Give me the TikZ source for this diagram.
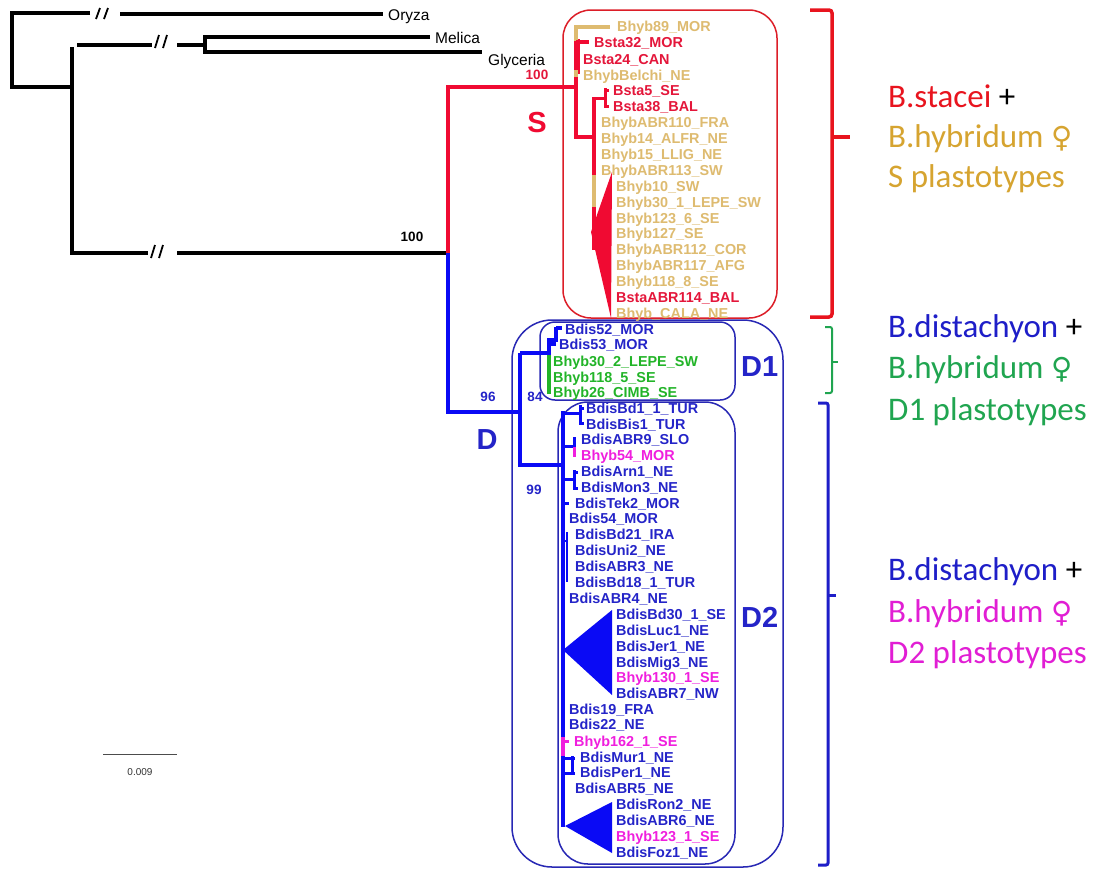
\documentclass[tikz,border=0pt]{standalone}
\usepackage{fontspec}
\setmainfont{Liberation Sans}
\newfontfamily\calib{Carlito}
\newfontfamily\symf{DejaVu Sans}
\definecolor{tanT}{RGB}{222,187,112}
\definecolor{redT}{RGB}{228,22,58}
\definecolor{bluT}{RGB}{36,36,200}
\definecolor{grnT}{RGB}{34,180,40}
\definecolor{magT}{RGB}{240,30,222}
\definecolor{redL}{RGB}{240,10,50}
\definecolor{bluL}{RGB}{10,10,245}
\definecolor{boxB}{RGB}{40,40,180}
\definecolor{boxR}{RGB}{220,30,40}
\definecolor{stRed}{RGB}{232,20,30}
\definecolor{gold}{RGB}{214,164,48}
\definecolor{grnR}{RGB}{32,165,80}
\definecolor{bluR}{RGB}{30,30,200}
\definecolor{magR}{RGB}{225,30,212}
\tikzset{
  br/.style={line width=4pt},
  brk/.style={line width=1.8pt},
  tip/.style={font=\bfseries\fontsize{14.4}{16}\selectfont, inner sep=0pt, anchor=base west},
  outg/.style={font=\fontsize{15.5}{17}\selectfont, inner sep=0pt, anchor=base west},
  boot/.style={font=\bfseries\fontsize{13.5}{15}\selectfont, inner sep=0pt},
  big/.style={font=\bfseries\fontsize{29}{32}\selectfont, inner sep=0pt},
  legend/.style={font=\calib\fontsize{33}{38}\selectfont, inner sep=0pt, anchor=base west},
  clbox/.style={draw, line width=1.5pt, inner sep=0pt},
}
\begin{document}
\begin{tikzpicture}[x=1pt,y=-1pt]
\useasboundingbox (0,0) rectangle (1101,871);
\fill[white] (0,0) rectangle (1101,871);

% clade boxes
\node[clbox, boxR, rounded corners=28pt, minimum width=214pt, minimum height=308pt] (Sbox) at (670,164) {};
\node[clbox, boxB, rounded corners=40pt, minimum width=271pt, minimum height=547pt] (Dbox) at (647.5,593.5) {};
\node[clbox, boxB, rounded corners=15pt, minimum width=195pt, minimum height=78pt] (Donebox) at (637.5,361) {};
\node[clbox, boxB, rounded corners=30pt, minimum width=177pt, minimum height=462pt] (Dtwobox) at (646.5,633) {};

% ---------- outgroups (black) ----------
\coordinate (root) at (12,87);
\coordinate (n1) at (72,87);
\coordinate (ing) at (448,253);
\coordinate (mg) at (205,45);
\draw[br] (90,13) -- (12,13) -- (root) -- (n1);
\draw[br] (120,14) -- (383,14);
\draw[br] (72,47) -- (72,253) -- (148,253);
\draw[line width=3.3pt] (77,45) -- (152,45);
\draw[br] (177,45) -- (mg);
\draw[br] (430,37) -- (205,37) -- (205,52) -- (482,52);
\draw[br] (177,253) -- (ing);
% break marks
\draw[brk] (96,19) -- (100,8) (104,19) -- (108,8);
\draw[brk] (155,48) -- (159,35) (163,48) -- (167,35);
\draw[brk] (151,258) -- (155,245) (159,258) -- (163,245);

\node[outg] (oryza) at (388,20) {Oryza};
\node[outg] (melica) at (435,43) {Melica};
\node[outg] (glyceria) at (488,65) {Glyceria};

% ---------- S clade (red) ----------
\coordinate (sn) at (576,87);
\draw[br, redL] (ing) -- (448,87) -- (sn);
\draw[br, redL] (576,39) -- (576,137) -- (594,137);
\draw[line width=6pt, redL] (577,39) -- (577,74);
\draw[line width=3.5pt, tanT] (576,41) -- (576,27) -- (610,27);
\draw[line width=3.5pt, tanT] (576,70) -- (576,77);
\draw[line width=3.5pt, redL] (576,42) -- (589,42);
\draw[br, redL] (594,97) -- (594,250);
\draw[br, tanT] (594,175) -- (594,207);
\draw[line width=3pt, redL] (594,98) -- (605,98) (605,88) -- (605,108) (605,90) -- (609,90) (605,106) -- (609,106);
\fill[redL] (612,172) -- (591,232) -- (611,318) -- cycle;

% ---------- D clade (blue) ----------
\coordinate (dn) at (520,412);
\draw[br, bluL] (ing) -- (448,412) -- (dn);
\draw[br, bluL] (520,353) -- (520,465) -- (563,465);
\draw[br, bluL] (520,353) -- (549,353);
\draw[br, bluL] (549,338) -- (549,356);
\draw[line width=3.5pt, grnT] (549,355) -- (549,394);
\draw[line width=3.5pt, bluL] (549,340) -- (556,340) (556,327) -- (556,342) (556,328) -- (562,328) (549,344) -- (556,344);

\draw[br, bluL] (563,411) -- (563,827);
\draw[line width=3pt, bluL] (563,413) -- (580,413) (580,405) -- (580,425) (580,408) -- (584,408) (580,423) -- (584,423);
\draw[line width=3pt, bluL] (563,446) -- (574,446) (574,437) -- (574,447);
\draw[line width=3pt, magT] (574,447) -- (574,457);
\draw[line width=3pt, bluL] (563,479) -- (574,479) (574,470) -- (574,490) (574,472) -- (578,472) (574,488) -- (578,488);
\draw[line width=3pt, bluL] (563,503) -- (569,503);
\draw[line width=2.5pt, bluL] (563,541) -- (567,541) (567,532) -- (567,582);
\fill[bluL] (563,650) -- (612,610) -- (612,695) -- cycle;
\draw[br, magT] (563,737) -- (563,756);
\draw[line width=3pt, magT] (563,741) -- (569,741);
\draw[line width=3pt, bluL] (563,758) -- (575,758) (563,773) -- (575,773) (572,756) -- (572,775);
\fill[bluL] (565,826) -- (612,802) -- (612,853) -- cycle;

% ---------- tip labels ----------
\foreach \t/\c/\x/\y [count=\i] in {
 Bhyb89\_MOR/tanT/617/26, Bsta32\_MOR/redT/594/42, Bsta24\_CAN/redT/583/59,
 BhybBelchi\_NE/tanT/583/75, Bsta5\_SE/redT/613/90, Bsta38\_BAL/redT/613/106,
 BhybABR110\_FRA/tanT/601/122, Bhyb14\_ALFR\_NE/tanT/601/138, Bhyb15\_LLIG\_NE/tanT/601/154,
 BhybABR113\_SW/tanT/601/170, Bhyb10\_SW/tanT/616/186, Bhyb30\_1\_LEPE\_SW/tanT/616/202,
 Bhyb123\_6\_SE/tanT/616/218, Bhyb127\_SE/tanT/616/233, BhybABR112\_COR/tanT/616/249,
 BhybABR117\_AFG/tanT/616/265, Bhyb118\_8\_SE/tanT/616/281, BstaABR114\_BAL/redT/616/297,
 Bhyb\_CALA\_NE/tanT/616/313}
 {\node[tip, text=\c] (ts\i) at (\x,\y+5) {\t};}

\foreach \t/\c/\x/\y [count=\i] in {
 Bdis52\_MOR/bluT/565/329, Bdis53\_MOR/bluT/559/344, Bhyb30\_2\_LEPE\_SW/grnT/553/361,
 Bhyb118\_5\_SE/grnT/553/377, Bhyb26\_CIMB\_SE/grnT/553/392}
 {\node[tip, text=\c] (tda\i) at (\x,\y+5) {\t};}

\foreach \t/\c/\x/\y [count=\i] in {
 BdisBd1\_1\_TUR/bluT/586/408, BdisBis1\_TUR/bluT/586/424, BdisABR9\_SLO/bluT/581/439,
 Bhyb54\_MOR/magT/581/455, BdisArn1\_NE/bluT/581/471, BdisMon3\_NE/bluT/581/487,
 BdisTek2\_MOR/bluT/575/503, Bdis54\_MOR/bluT/569/518, BdisBd21\_IRA/bluT/575/534,
 BdisUni2\_NE/bluT/575/550, BdisABR3\_NE/bluT/575/566, BdisBd18\_1\_TUR/bluT/575/582,
 BdisABR4\_NE/bluT/569/598, BdisBd30\_1\_SE/bluT/616/614, BdisLuc1\_NE/bluT/616/630,
 BdisJer1\_NE/bluT/616/646, BdisMig3\_NE/bluT/616/662, Bhyb130\_1\_SE/magT/616/677,
 BdisABR7\_NW/bluT/616/693, Bdis19\_FRA/bluT/569/709, Bdis22\_NE/bluT/569/724,
 Bhyb162\_1\_SE/magT/574/741, BdisMur1\_NE/bluT/580/757, BdisPer1\_NE/bluT/580/772,
 BdisABR5\_NE/bluT/575/788, BdisRon2\_NE/bluT/616/804, BdisABR6\_NE/bluT/616/820,
 Bhyb123\_1\_SE/magT/616/836, BdisFoz1\_NE/bluT/616/852}
 {\node[tip, text=\c] (tdb\i) at (\x,\y+5) {\t};}

% bootstrap values and clade letters
\node[boot] (b100a) at (412,237) {100};
\node[boot, text=redT] (b100b) at (537,75) {100};
\node[boot, text=bluT] (b96) at (488,397) {96};
\node[boot, text=bluT] (b84) at (535,397) {84};
\node[boot, text=bluT] (b99) at (534,490) {99};
\node[big, text=redL] (lS) at (537,123) {S};
\node[big, text=bluT] (lD) at (487,440) {D};
\node[big, text=bluT, anchor=west] (lD1) at (741,367) {D1};
\node[big, text=bluT, anchor=west] (lD2) at (741,617) {D2};

% scale bar
\coordinate (sbl) at (103,754);
\coordinate (sbr) at (177,754);
\draw[line width=0.9pt, black!70] (sbl) -- (sbr);
\node[font=\fontsize{10}{12}\selectfont, text=black!80, inner sep=0pt] (sbt) at (140,772) {0.009};

% right brackets
\draw[line width=3.5pt, stRed, rounded corners=3pt] (810,10) -- (832,10) -- (832,317) -- (810,317);
\draw[line width=3.5pt, stRed] (832,137) -- (850,137);
\draw[line width=2pt, grnR, rounded corners=2pt] (825,327) -- (832,327) -- (832,393) -- (825,393);
\draw[line width=2pt, grnR] (832,362) -- (838,362);
\draw[line width=3pt, bluR, rounded corners=2pt] (818,403) -- (828,403) -- (828,865) -- (818,865);
\draw[line width=3pt, bluR] (828,595) -- (836,595);

% legends
\node[legend] (g1) at (888,107) {\textcolor{stRed}{B.stacei} +};
\node[legend, text=gold] (g2) at (888,147) {B.hybridum {\symf\fontsize{29}{34}\selectfont ♀}};
\node[legend, text=gold] (g3) at (888,187) {S plastotypes};
\node[legend] (g4) at (888,337) {\textcolor{bluR}{B.distachyon} +};
\node[legend, text=grnR] (g5) at (888,378) {B.hybridum {\symf\fontsize{29}{34}\selectfont ♀}};
\node[legend, text=grnR] (g6) at (888,420) {D1 plastotypes};
\node[legend] (g7) at (888,580) {\textcolor{bluR}{B.distachyon} +};
\node[legend, text=magR] (g8) at (888,622) {B.hybridum {\symf\fontsize{29}{34}\selectfont ♀}};
\node[legend, text=magR] (g9) at (888,663) {D2 plastotypes};
\end{tikzpicture}
\end{document}
